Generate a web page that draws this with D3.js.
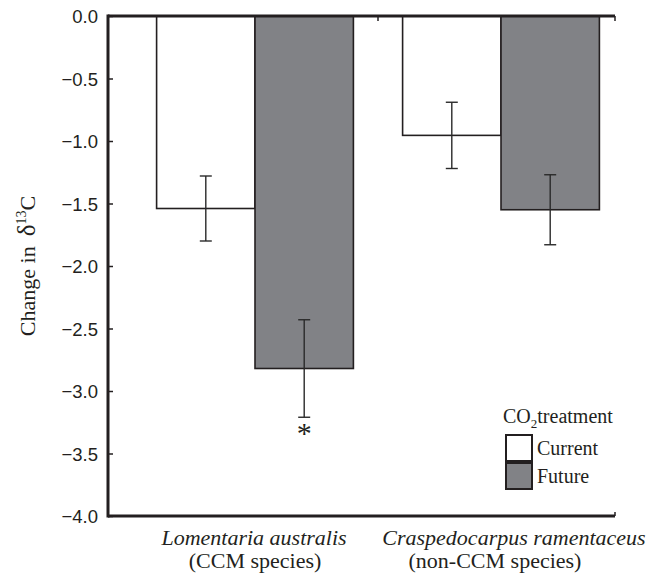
<!DOCTYPE html>
<html>
<head>
<meta charset="utf-8">
<script src="https://cdn.jsdelivr.net/npm/d3@7"></script>
<style>
  body { margin: 0; background: #fff; }
  svg { display: block; }
</style>
</head>
<body>
<div id="vis"></div>
<script>
var width = 663,
  height = 579;

var ink = "#231f20";
var grey = "#818286";

// data
var species = ["Lomentaria australis", "Craspedocarpus ramentaceus"];
var speciesNote = ["(CCM species)", "(non-CCM species)"];
var treatments = ["Current", "Future"];
var currentMean = [-1.54, -0.955];
var currentErr = [0.26, 0.265];
var futureMean = [-2.82, -1.55];
var futureErr = [0.39, 0.28];
var significant = [true, false]; // asterisk under the Future bar
var yTicks = [0, -0.5, -1, -1.5, -2, -2.5, -3, -3.5, -4];

var rows = [];
species.forEach((s, i) => {
  rows.push({ sp: s, tr: "Current", mean: currentMean[i], err: currentErr[i], star: false });
  rows.push({ sp: s, tr: "Future", mean: futureMean[i], err: futureErr[i], star: significant[i] });
});

var plotLeft = 108,
  plotRight = 615;

// label nudges (px) so the long names sit as in the original
var nameShift = [-1, 13];
var noteShift = [0, -6];

var y = d3.scaleLinear().domain([-4, 0]).range([516, 16]);

var x0 = d3.scaleBand()
  .domain(species)
  .range([132, 624])
  .paddingInner(0.2)
  .paddingOuter(0.1);

var x1 = d3.scaleBand()
  .domain(treatments)
  .range([0, x0.bandwidth()]);

var fill = d3.scaleOrdinal().domain(treatments).range(["#ffffff", grey]);

var svg = d3.select("#vis")
  .append("svg")
  .attr("width", width)
  .attr("height", height);

// bars
svg.append("g")
  .attr("class", "bars")
  .selectAll("rect")
  .data(rows)
  .enter()
  .append("rect")
  .attr("x", d => x0(d.sp) + x1(d.tr))
  .attr("y", y(0))
  .attr("width", x1.bandwidth())
  .attr("height", d => y(d.mean) - y(0))
  .style("fill", d => fill(d.tr))
  .style("stroke", ink)
  .attr("stroke-width", 1.6);

// error bars
var capW = 6;
var eb = svg.append("g")
  .attr("class", "errorbars")
  .selectAll("g")
  .data(rows)
  .enter()
  .append("g")
  .attr("transform", d => "translate(" + (x0(d.sp) + x1(d.tr) + x1.bandwidth() / 2) + ",0)")
  .style("stroke", "#2a2a2a")
  .attr("stroke-width", 1.4);
eb.append("line")
  .attr("y1", d => y(d.mean + d.err))
  .attr("y2", d => y(d.mean - d.err));
eb.append("line")
  .attr("x1", -capW).attr("x2", capW)
  .attr("y1", d => y(d.mean + d.err))
  .attr("y2", d => y(d.mean + d.err));
eb.append("line")
  .attr("x1", -capW).attr("x2", capW)
  .attr("y1", d => y(d.mean - d.err))
  .attr("y2", d => y(d.mean - d.err));

// significance star
svg.append("g")
  .selectAll("text")
  .data(rows.filter(d => d.star))
  .enter()
  .append("text")
  .attr("x", d => x0(d.sp) + x1(d.tr) + x1.bandwidth() / 2)
  .attr("y", d => y(d.mean - d.err) + 26)
  .attr("text-anchor", "middle")
  .attr("font-family", "Liberation Serif, serif")
  .attr("font-size", "30px")
  .style("fill", ink)
  .text("*");

// y axis
var yAxis = d3.axisRight(y)
  .tickValues(yTicks)
  .tickSize(5)
  .tickFormat(d3.format(".1f"));
var gy = svg.append("g")
  .attr("transform", "translate(" + plotLeft + ",0)")
  .call(yAxis);
gy.select(".domain").remove();
gy.selectAll(".tick line").style("stroke", ink).attr("stroke-width", 1.5);
gy.selectAll(".tick text")
  .attr("x", -10)
  .attr("dy", "0.36em")
  .attr("text-anchor", "end")
  .attr("font-family", "Liberation Sans, Arial, sans-serif")
  .attr("font-size", "18.5px")
  .style("fill", ink);

// frame lines: left, top (zero line) and bottom
svg.append("line")
  .attr("x1", plotLeft).attr("x2", plotLeft)
  .attr("y1", y(0) - 1.5).attr("y2", y(-4) + 1.5)
  .style("stroke", ink).attr("stroke-width", 3);
[0, -4].forEach(v => {
  svg.append("line")
    .attr("x1", plotLeft).attr("x2", plotRight)
    .attr("y1", y(v)).attr("y2", y(v))
    .style("stroke", ink).attr("stroke-width", 3);
});

// small category ticks on the zero line
var catTicks = [x0(species[1]) - x0.step() * x0.paddingInner() / 2, plotRight];
svg.append("g")
  .selectAll("line")
  .data(catTicks)
  .enter()
  .append("line")
  .attr("x1", d => d).attr("x2", d => d)
  .attr("y1", y(0)).attr("y2", y(0) + 5)
  .style("stroke", ink).attr("stroke-width", 1.5);
svg.append("line")
  .attr("x1", plotRight).attr("x2", plotRight)
  .attr("y1", y(-4) - 4).attr("y2", y(-4))
  .style("stroke", ink).attr("stroke-width", 1.5);

// x labels
var xl = svg.append("g")
  .selectAll("g")
  .data(species)
  .enter()
  .append("g")
  .attr("font-family", "Liberation Serif, serif")
  .attr("font-size", "22px")
  .style("fill", ink);
xl.append("text")
  .attr("x", (d, i) => x0(d) + x0.bandwidth() / 2 + nameShift[i])
  .attr("y", 545)
  .attr("text-anchor", "middle")
  .style("font-style", "italic")
  .text(d => d);
xl.append("text")
  .attr("x", (d, i) => x0(d) + x0.bandwidth() / 2 + noteShift[i])
  .attr("y", 568)
  .attr("text-anchor", "middle")
  .text((d, i) => speciesNote[i]);

// y label
var yl = svg.append("text")
  .attr("transform", "translate(35,266) rotate(-90)")
  .attr("text-anchor", "middle")
  .attr("font-family", "Liberation Serif, serif")
  .attr("font-size", "22px")
  .style("fill", ink);
yl.append("tspan").text("Change in");
yl.append("tspan").attr("dx", 10).attr("font-size", "25px").text("\u03b4");
yl.append("tspan").attr("dy", -9).attr("font-size", "14px").text("13");
yl.append("tspan").attr("dy", 9).text("C");

// legend
var lg = svg.append("g")
  .attr("font-family", "Liberation Serif, serif")
  .attr("font-size", "20px")
  .style("fill", ink);
var title = lg.append("text").attr("x", 503).attr("y", 423);
title.append("tspan").text("CO");
title.append("tspan").attr("dy", 5).attr("font-size", "13px").text("2");
title.append("tspan").attr("dy", -5).text("treatment");

var boxSize = 28;
var items = lg.selectAll(".item")
  .data(treatments)
  .enter()
  .append("g")
  .attr("class", "item")
  .attr("transform", (d, i) => "translate(505," + (434 + i * boxSize) + ")");
items.append("rect")
  .attr("x", 1).attr("y", 1)
  .attr("width", boxSize - 2)
  .attr("height", boxSize - 2)
  .style("fill", d => fill(d))
  .style("stroke", ink)
  .attr("stroke-width", 2);
items.append("text")
  .attr("x", 32)
  .attr("y", 21)
  .text(d => d);
</script>
</body>
</html>
